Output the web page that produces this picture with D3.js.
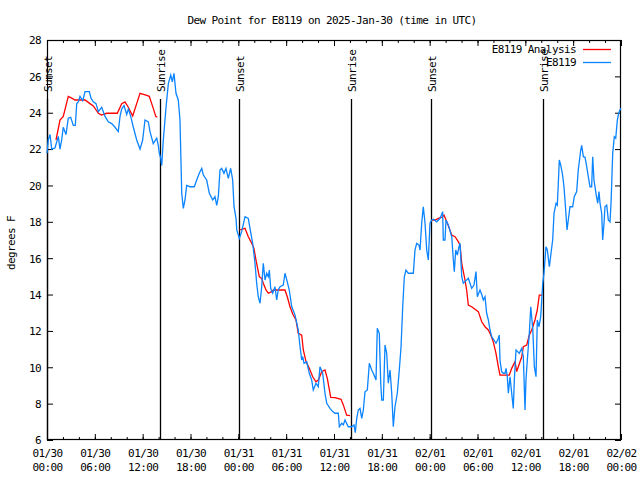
<!DOCTYPE html>
<html><head><meta charset="utf-8">
<script src="https://cdn.jsdelivr.net/npm/d3@7/dist/d3.min.js"></script>
<style>
body{margin:0;background:#fff;}
text{font-family:"DejaVu Sans Mono","Liberation Mono",monospace;font-size:11px;letter-spacing:-0.6px;fill:#000;}
</style></head><body>
<svg id="c" width="640" height="480"></svg>
<script>
const titleText = "Dew Point for E8119 on 2025-Jan-30 (time in UTC)";
const yLabel = "degrees F";
const seriesNames = ["E8119 Analysis", "E8119"];
const seriesColors = ["#ff0000", "#0a84ff"];
const startUTC = Date.UTC(2025, 0, 30);
const spanHours = 72;
const yTicks = [6, 8, 10, 12, 14, 16, 18, 20, 22, 24, 26, 28];

// sun events: hours after 01/30 00:00 UTC
const sunNames = ["Sunset", "Sunrise", "Sunset", "Sunrise", "Sunset", "Sunrise"];
const sunHours = [0.0, 14.17, 24.12, 38.13, 48.2, 62.26];

// Observations E8119 (hours after start, degrees F)
const obsHours = [0.00,0.16,0.38,0.59,1.00,1.22,1.42,1.63,1.84,2.04,2.38,2.67,2.97,3.30,3.55,3.73,3.93,4.14,4.48,4.77,5.31,5.52,5.81,6.15,6.44,6.86,7.28,7.69,8.12,8.53,8.94,9.16,9.37,9.66,10.00,10.20,10.50,10.83,11.25,11.67,12.00,12.29,12.71,12.92,13.33,13.76,13.96,14.09,14.26,14.39,14.59,14.93,15.22,15.52,15.72,15.93,16.18,16.47,16.68,16.90,17.10,17.31,17.52,17.94,18.48,18.78,19.10,19.41,19.61,20.03,20.36,20.79,21.07,21.29,21.49,21.70,21.91,22.20,22.45,22.74,23.04,23.29,23.46,23.71,23.80,24.12,24.42,24.84,25.25,25.46,25.80,26.09,26.30,26.50,26.72,26.93,27.13,27.35,27.56,27.76,27.89,28.06,28.31,28.60,28.81,29.01,29.23,29.64,29.85,30.14,30.39,30.70,31.11,31.52,31.74,31.95,32.07,32.24,32.58,32.90,33.20,33.40,33.74,34.03,34.24,34.58,34.87,35.09,35.50,35.84,36.13,36.54,36.67,36.97,37.17,37.38,37.79,38.22,38.51,38.67,38.85,39.05,39.26,39.48,39.68,39.89,40.18,40.43,40.73,40.93,41.27,41.43,41.68,41.86,41.99,42.19,42.40,42.61,42.81,43.03,43.24,43.44,43.65,43.94,44.19,44.41,44.62,44.82,45.03,45.32,45.95,46.16,46.37,46.66,46.79,47.00,47.20,47.42,47.63,47.83,48.04,48.26,48.46,48.88,49.30,49.63,49.71,49.92,50.05,50.34,50.64,50.77,50.97,51.09,51.27,51.47,51.68,51.81,52.02,52.22,52.43,52.85,53.06,53.27,53.56,53.81,53.98,54.31,54.53,54.73,54.94,55.15,55.36,55.57,55.78,56.07,56.32,56.53,56.73,56.82,57.03,57.24,57.45,57.58,57.74,57.87,58.08,58.29,58.49,58.62,58.83,59.04,59.24,59.55,59.75,59.96,60.08,60.25,60.50,60.68,60.93,61.13,61.34,61.50,61.72,61.93,62.18,62.34,62.59,62.76,63.01,63.22,63.43,63.60,63.85,64.01,64.14,64.26,64.44,64.64,64.85,65.06,65.23,65.39,65.60,65.94,66.14,66.44,66.64,66.95,67.07,67.28,67.49,67.70,67.90,68.11,68.32,68.45,68.61,68.86,69.08,69.24,69.37,69.58,69.70,69.87,69.99,70.21,70.41,70.62,70.75,70.96,71.16,71.34,71.54,71.71,71.96];
const obsValues = [21.77,22.5,22.8,22.0,22.06,22.4,22.7,22.0,22.5,23.2,22.8,23.7,23.75,23.3,23.3,24.5,24.6,24.9,24.66,25.16,25.16,24.8,24.6,24.5,24.06,24.3,23.8,23.5,23.4,23.2,22.96,23.8,24.2,24.4,23.9,24.2,23.8,23.2,22.5,22.0,22.5,23.6,23.5,22.96,22.3,22.6,22.2,21.77,21.5,21.1,22.5,24.3,25.6,26.07,25.7,26.17,25.07,24.7,23.6,19.57,18.74,19.2,20.0,19.93,19.93,20.3,20.67,20.94,20.57,20.3,19.57,19.2,19.38,18.9,19.38,20.85,20.94,20.67,20.94,20.39,20.94,20.3,18.83,18.19,17.55,17.09,17.46,18.28,18.19,17.64,16.82,15.72,14.62,13.88,13.52,14.43,15.72,14.8,15.17,14.98,15.35,14.34,14.07,14.43,13.7,14.25,14.43,14.52,15.17,14.7,14.25,13.33,12.87,12.05,11.13,10.4,10.58,10.22,10.3,9.67,9.3,8.75,9.12,8.94,10.03,9.67,8.57,8.02,7.74,7.56,7.47,7.47,6.73,6.92,6.83,7.1,6.73,6.73,6.83,6.4,7.19,7.65,7.74,7.19,7.65,8.65,8.75,10.22,9.85,9.67,9.3,12.14,11.87,9.12,8.2,8.2,11.22,10.77,9.12,9.85,8.57,6.73,7.83,8.57,9.85,11.13,13.33,14.98,15.35,15.17,15.17,16.45,16.82,16.72,16.45,17.92,18.83,17.92,16.45,15.9,17.92,18.1,18.14,18.0,18.19,18.56,17.0,17.0,18.1,17.83,17.37,17.18,15.9,15.26,16.45,16.17,16.63,16.82,14.98,14.62,14.71,14.9,14.62,14.34,14.52,15.26,13.88,14.25,14.0,13.7,13.88,12.97,12.6,12.05,11.68,11.5,11.32,11.5,11.77,10.4,9.76,9.67,9.67,9.94,9.48,8.57,9.48,8.57,7.74,9.3,10.95,10.86,10.77,11.04,10.58,7.65,9.3,10.4,11.87,13.33,12.14,10.03,9.48,12.6,12.23,12.78,14.62,15.17,16.63,16.45,15.53,16.27,17.0,18.47,19.02,18.92,20.12,21.4,21.12,20.67,19.93,18.65,17.55,18.1,18.83,18.83,19.38,19.66,20.85,21.95,22.2,21.58,21.55,21.03,20.48,19.93,19.93,21.58,20.3,19.57,19.02,19.66,19.02,18.47,17.0,17.92,18.83,18.92,18.1,18.0,19.02,21.77,22.68,22.6,23.6,23.97,24.24];

// Analysis (null = no analysis)
const anaHours = [1.13,1.63,2.04,2.67,3.10,3.51,4.77,5.39,5.81,6.44,6.86,7.49,8.82,9.37,9.78,10.20,10.75,11.25,11.67,12.42,12.83,13.33,13.64,13.84,19.0,24.14,24.84,25.25,25.68,25.96,26.21,26.63,26.93,27.13,27.47,27.76,28.19,28.39,29.85,30.14,30.48,30.82,31.23,31.52,31.95,32.15,32.49,32.90,33.33,33.74,34.03,34.46,34.87,35.16,35.59,36.13,36.88,37.17,37.59,38.01,43.0,48.26,48.68,49.09,49.52,49.80,50.14,50.46,50.77,51.18,51.59,51.81,52.02,52.43,52.64,52.85,53.27,53.69,54.10,54.53,54.94,55.36,55.66,55.98,56.32,56.61,56.82,57.99,58.29,58.71,58.92,59.12,59.55,59.75,60.17,60.50,60.80,61.21,61.50,61.75,62.13];
const anaValues = [22.5,23.6,23.8,24.9,24.8,24.7,24.7,24.5,24.37,23.97,23.87,23.97,23.97,24.5,24.6,24.3,23.82,24.5,25.07,24.97,24.9,24.24,23.8,23.75,null,17.55,17.64,17.18,16.82,16.54,15.9,14.98,14.89,14.62,14.25,14.07,14.16,14.25,14.25,13.88,13.33,12.93,12.6,11.87,11.77,10.95,10.31,9.94,9.48,9.2,9.3,9.76,9.85,9.39,8.35,8.33,8.24,7.93,7.37,7.34,null,18.1,18.1,18.19,18.25,18.37,18.0,17.64,17.27,17.18,16.91,16.72,15.72,14.8,14.25,13.42,13.33,13.19,13.06,12.5,12.23,12.05,11.77,11.4,10.77,10.03,9.57,9.57,9.94,10.31,9.76,10.03,10.58,11.13,11.22,11.77,12.05,12.6,13.15,13.97,13.97];

const toDate = h => new Date(startUTC + h * 3600000);
const obs = obsHours.map((h, i) => ({t: toDate(h), v: obsValues[i]}));
const ana = anaHours.map((h, i) => ({t: toDate(h), v: anaValues[i]}));

const L = 47, R = 621, T = 40, B = 440;
const svg = d3.select("#c");
const x = d3.scaleUtc().domain([toDate(0), toDate(spanHours)]).range([L, R]);
const y = d3.scaleLinear().domain([6, 28]).range([B, T]);

const minorTicks = d3.range(0, spanHours + 1, 2).map(toDate);
const majorTicks = d3.range(0, spanHours + 1, 6).map(toDate);

function styleAxis(g){ g.select(".domain").remove(); g.selectAll("line").attr("stroke","#000"); }

// bottom & top ticks
svg.append("g").attr("transform",`translate(0,${B})`)
  .call(d3.axisBottom(x).tickValues(minorTicks).tickSize(-3).tickFormat("")).call(styleAxis);
svg.append("g").attr("transform",`translate(0,${T})`)
  .call(d3.axisTop(x).tickValues(minorTicks).tickSize(-3).tickFormat("")).call(styleAxis);
const fDay = d3.utcFormat("%m/%d"), fTime = d3.utcFormat("%H:%M");
const bx = svg.append("g").attr("transform",`translate(0,${B})`)
  .call(d3.axisBottom(x).tickValues(majorTicks).tickSize(-6).tickFormat("")).call(styleAxis);
bx.selectAll(".tick").append("text").attr("text-anchor","middle")
  .each(function(d){
    const t = d3.select(this);
    t.append("tspan").attr("x",0).attr("y",17).text(fDay(d));
    t.append("tspan").attr("x",0).attr("y",31).text(fTime(d));
  });
svg.append("g").attr("transform",`translate(0,${T})`)
  .call(d3.axisTop(x).tickValues(majorTicks).tickSize(-6).tickFormat("")).call(styleAxis);

// y axes
const ly = svg.append("g").attr("transform",`translate(${L},0)`)
  .call(d3.axisLeft(y).tickValues(yTicks).tickSize(-6).tickPadding(6)).call(styleAxis);
ly.selectAll("text").attr("font-size",null).attr("font-family",null).attr("dy","0.35em").attr("x",-6);
ly.attr("font-size",null).attr("font-family",null);
svg.append("g").attr("transform",`translate(${R},0)`)
  .call(d3.axisRight(y).tickValues(yTicks).tickSize(-6).tickFormat("")).call(styleAxis);

// sun lines
sunHours.forEach((h, i) => {
  const sx = Math.round(x(toDate(h))) + 0.5;
  svg.append("line").attr("x1",sx).attr("x2",sx).attr("y1",99).attr("y2",B)
    .attr("stroke","#000").attr("stroke-width",1.3);
  svg.append("text").attr("transform",`translate(${sx+1},92) rotate(-90)`)
    .attr("text-anchor","start").attr("dominant-baseline","central").text(sunNames[i]);
});

// frame
svg.append("rect").attr("x",L+0.5).attr("y",T+0.5).attr("width",R-L-1).attr("height",B-T-1)
  .attr("fill","none").attr("stroke","#000").attr("stroke-width",1.2);

// data lines
const line = d3.line().defined(d => d.v !== null).x(d => x(d.t)).y(d => y(d.v));
svg.append("path").datum(ana).attr("d",line).attr("fill","none")
  .attr("stroke",seriesColors[0]).attr("stroke-width",1.3);
svg.append("path").datum(obs).attr("d",line).attr("fill","none")
  .attr("stroke",seriesColors[1]).attr("stroke-width",1.3);

// title & labels
svg.append("text").attr("x",332).attr("y",20).attr("text-anchor","middle")
  .attr("dominant-baseline","central").text(titleText);
svg.append("text").attr("transform","translate(11,243) rotate(-90)").attr("text-anchor","middle")
  .attr("dominant-baseline","central").text(yLabel);

// legend
seriesNames.forEach((n, i) => {
  const ly0 = 49.5 + i * 13;
  svg.append("text").attr("x",576).attr("y",ly0).attr("text-anchor","end")
    .attr("dominant-baseline","central").text(n);
  svg.append("line").attr("x1",583).attr("x2",611).attr("y1",ly0).attr("y2",ly0)
    .attr("stroke",seriesColors[i]).attr("stroke-width",1.3);
});
</script></body></html>
